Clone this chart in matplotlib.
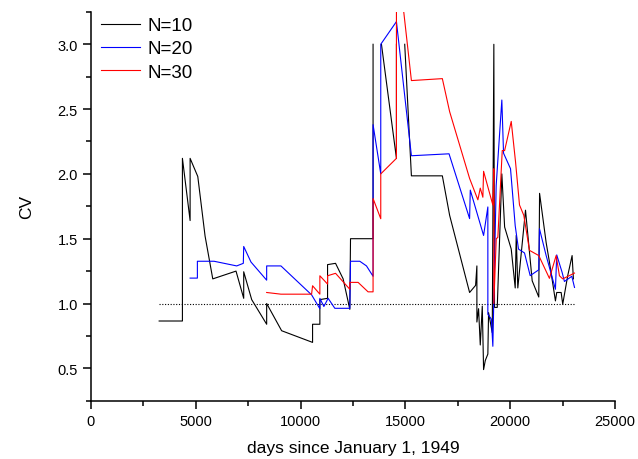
import numpy as np
import matplotlib
matplotlib.use("Agg")
import matplotlib.pyplot as plt
from matplotlib.ticker import MultipleLocator

plt.rcParams['font.family'] = ['Liberation Sans', 'DejaVu Sans']

nan = np.nan

# N=10 (black)
days10 = [3252, 4362, 4362, 4729, 4729, 5095, 5443, 5810, 6919, 7286, 7286, 7667,
          8381, 8381, 9095, 10571, 10571, 10919, 10919, 11286, 11286, 11667, 12029,
          12348, 12381, 13457, 13457, nan, 13857, 14572, 14572, nan, 14967, 15286,
          16762, 17110, 18062, 18348, 18410, 18410, 18490, 18571, 18667, 18729, 18810,
          18933, 18967, 19143, 19219, 19250, 19381, 19600, 19733, 20048, 20238, 20286,
          20362, 20729, 21048, 21362, 21400, 21714, 21871, 22157, 22219, 22429, 22505,
          22743, 22952, 23014]
cv10 = [0.865, 0.865, 2.12, 1.64, 2.12, 1.98, 1.52, 1.19, 1.25, 1.04, 1.245, 1.03,
        0.84, 1.0, 0.79, 0.70, 0.84, 0.84, 1.03, 1.04, 1.30, 1.31, 1.19,
        0.955, 1.50, 1.50, 3.0, nan, 3.0, 2.12, 3.0, nan, 3.0, 1.985,
        1.985, 1.68, 1.085, 1.14, 1.29, 0.857, 0.96, 0.68, 0.98, 0.49, 0.56,
        0.61, 0.93, 0.775, 3.0, 0.97, 0.97, 2.0, 1.59, 1.42, 1.12, 1.525,
        1.12, 1.72, 1.175, 1.05, 1.85, 1.47, 1.32, 1.02, 1.085, 1.085, 0.995,
        1.215, 1.37, 1.19]

# N=20 (blue)
days20 = [4729, 5076, 5076, 5872, 6952, 7267, 7286, 7633, 8381, 8381, 9062, 10524,
          10919, 10919, 11110, 11314, 11633, 12348, 12381, 12824, 13143, 13457, 13457,
          13824, 13824, 14572, 15286, 17081, 18062, 18095, 18729, 18933, 18933, 19100,
          19171, 19330, 19600, 19681, 20014, 20238, 20395, 20681, 20952, 21362, 21395,
          21714, 22157, 22219, 22476, 22586, 22938, 23067]
cv20 = [1.196, 1.196, 1.326, 1.326, 1.29, 1.31, 1.44, 1.32, 1.18, 1.29, 1.29, 1.067,
        0.96, 1.04, 0.977, 1.04, 0.963, 0.963, 1.326, 1.326, 1.29, 1.21, 2.38,
        2.0, 3.0, 3.175, 2.14, 2.155, 1.655, 1.875, 1.525, 1.745, 0.917, 0.88,
        0.67, 1.91, 2.57, 2.16, 2.04, 1.60, 1.42, 1.39, 1.215, 1.26, 1.577,
        1.37, 1.11, 1.375, 1.24, 1.17, 1.21, 1.124]

# N=30 (red)
days30 = [8381, 9062, 10524, 10571, 10919, 10919, 11286, 11286, 11667, 12348, 12348,
          12743, 13219, 13457, 13457, 13824, 13824, 14572, 14572, 14730, 14886, 15286,
          16762, 17110, 18062, 18457, 18571, 18695, 18729, 19171, 19219, 19219, 19333,
          19410, 19619, 19733, 20048, 20252, 20443, 20648, 20919, 21362, 21871, 22190,
          22348, 22505, 23067]
cv30 = [1.085, 1.072, 1.072, 1.137, 1.072, 1.214, 1.15, 1.214, 1.233, 1.11, 1.163,
        1.163, 1.09, 1.09, 1.81, 1.654, 2.0, 2.12, 3.3, 3.5, 3.3, 2.72,
        2.735, 2.48, 1.965, 1.80, 1.89, 1.82, 2.02, 1.76, 2.04, 1.0, 1.5,
        1.51, 2.18, 2.18, 2.405, 2.095, 1.76, 1.68, 1.41, 1.37, 1.194, 1.37,
        1.214, 1.19, 1.235]

ref_days = [3252, 23050]
ref_cv = [1.0, 1.0]

fig = plt.figure(figsize=(6.38, 4.60), dpi=100)
ax = fig.add_axes([0.1426, 0.1267, 0.8214, 0.8453])

ax.plot(ref_days, ref_cv, color='black', lw=0.8, ls=(0, (1, 1.5)))
ax.plot(days10, cv10, color='black', lw=0.8, label='N=10')
ax.plot(days20, cv20, color='#0000ff', lw=0.8, label='N=20')
ax.plot(days30, cv30, color='#ff0000', lw=0.8, label='N=30')

ax.set_xlim(0, 25000)
ax.set_ylim(0.25, 3.25)
ax.xaxis.set_major_locator(MultipleLocator(5000))
ax.xaxis.set_minor_locator(MultipleLocator(2500))
ax.yaxis.set_major_locator(MultipleLocator(0.5))
ax.yaxis.set_minor_locator(MultipleLocator(0.25))
ax.yaxis.set_major_formatter(matplotlib.ticker.FormatStrFormatter('%.1f'))

for s in ['top', 'right']:
    ax.spines[s].set_visible(False)
for s in ['left', 'bottom']:
    ax.spines[s].set_linewidth(1.1)

ax.tick_params(which='major', direction='out', length=5.5, width=1.1, labelsize=10.5, pad=4)
ax.tick_params(which='minor', direction='out', length=3.5, width=1.1)

ax.set_xlabel('days since January 1, 1949', fontsize=12.5, labelpad=9)
ax.set_ylabel('CV', fontsize=12.5, labelpad=17)

ax.legend(loc='upper left', bbox_to_anchor=(-0.005, 1.02), frameon=False, fontsize=13.5,
          handlelength=2.05, handletextpad=0.4, labelspacing=0.32, borderaxespad=0.3)

fig.savefig('out.png', dpi=100)
